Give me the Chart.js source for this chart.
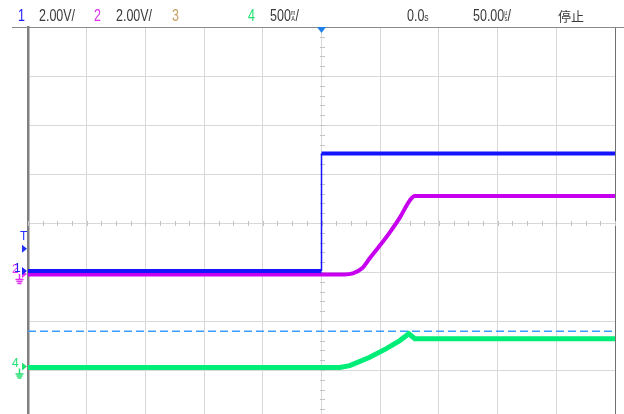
<!DOCTYPE html>
<html>
<head>
<meta charset="utf-8">
<script src="https://cdn.jsdelivr.net/npm/chart.js@4"></script>
<style>
  html, body { margin: 0; padding: 0; background: #fff; }
  #wrap { position: relative; width: 624px; height: 414px; overflow: hidden; }
  #wrap canvas { position: absolute; left: 0; top: 0; }
  .hd { position: absolute; top: 8px; font: 16px "Liberation Sans", Arial, sans-serif; line-height: 16px;
        color: #3a3a3a; white-space: nowrap; transform: scaleX(0.78); transform-origin: left top; }
  .stk { display: inline-block; font-size: 7px; line-height: 6px; vertical-align: top; text-align: center; margin-top: 2px; }
  .cjk { font-family: "Noto Sans CJK SC", sans-serif; font-size: 13px; transform: none; top: 8px; }
</style>
</head>
<body>
<div id="wrap">
  <canvas id="scope" width="624" height="420"></canvas>
  <div class="hd" style="left:18px;color:#2020ff">1</div>
  <div class="hd" style="left:39px">2.00V/</div>
  <div class="hd" style="left:94px;color:#e030f0">2</div>
  <div class="hd" style="left:116px">2.00V/</div>
  <div class="hd" style="left:172px;color:#c8a060">3</div>
  <div class="hd" style="left:248px;color:#20e070">4</div>
  <div class="hd" style="left:270px">500<span class="stk">m<br>A</span>/</div>
  <div class="hd" style="left:407px">0.0<span style="font-size:11px">s</span></div>
  <div class="hd" style="left:473px">50.00<span class="stk">µ<br>s</span>/</div>
  <div class="hd cjk" style="left:558px">停止</div>
</div>
<script>
// time axis in µs (50 µs/div), levels in screen divisions (8 div high)
const ch1Time = [-250, 0, 0, 250];
const ch1Level = [-0.98, -0.98, 1.42, 1.42];

const ch2Time = [-250, 19.8, 26.7, 34.3, 41.1, 49.7, 58.2, 66.7, 75.2, 79.5, 250];
const ch2Level = [-1.05, -1.05, -1.03, -0.93, -0.72, -0.46, -0.19, 0.11, 0.46, 0.55, 0.55];

const ch4Time = [-250, 15.6, 24.1, 41.1, 55.6, 66.7, 74.4, 79.5, 250];
const ch4Level = [-2.95, -2.95, -2.91, -2.74, -2.56, -2.40, -2.26, -2.36, -2.36];

const cursorTime = [-250, 250];
const cursorLevel = [-2.21, -2.21];

const toPoints = (xs, ys) => xs.map((t, i) => ({ x: t, y: ys[i] }));

// center-line minor ticks, trigger marker and channel markers
const scopeDecor = {
    id: 'scopeDecor',
    beforeDatasetsDraw(chart) {
        const { ctx, chartArea, scales: { x, y } } = chart;
        const cx = Math.round(x.getPixelForValue(0)) + 0.5;
        const cy = Math.round(y.getPixelForValue(0)) + 0.5;
        ctx.save();
        ctx.strokeStyle = '#c4c4c4';
        ctx.lineWidth = 1;
        ctx.beginPath();
        for (let v = -4; v <= 4.001; v += 0.2) {
            const py = Math.round(y.getPixelForValue(v)) + 0.5;
            ctx.moveTo(cx - 2.5, py);
            ctx.lineTo(cx + 2.5, py);
        }
        for (let t = -250; t <= 250.001; t += 12.5) {
            const px = Math.round(x.getPixelForValue(t)) + 0.5;
            ctx.moveTo(px, cy - 2.5);
            ctx.lineTo(px, cy + 2.5);
        }
        ctx.stroke();
        // header separator
        ctx.strokeStyle = '#8a8a8a';
        ctx.beginPath();
        ctx.moveTo(12, chartArea.top + 0.5);
        ctx.lineTo(624, chartArea.top + 0.5);
        ctx.stroke();
        ctx.restore();
    },
    afterDatasetsDraw(chart) {
        const { ctx, chartArea, scales: { x, y } } = chart;
        const left = chartArea.left;
        ctx.save();
        // trigger position
        const tx = x.getPixelForValue(0);
        ctx.fillStyle = '#1f7fe8';
        ctx.beginPath();
        ctx.moveTo(tx - 4.5, chartArea.top);
        ctx.lineTo(tx + 4.5, chartArea.top);
        ctx.lineTo(tx, chartArea.top + 6);
        ctx.closePath();
        ctx.fill();

        const arrow = (py, color) => {
            ctx.fillStyle = color;
            ctx.beginPath();
            ctx.moveTo(left - 6, py - 4);
            ctx.lineTo(left - 1, py);
            ctx.lineTo(left - 6, py + 4);
            ctx.closePath();
            ctx.fill();
        };
        const ground = (px, py, color) => {
            ctx.strokeStyle = color;
            ctx.lineWidth = 1.5;
            ctx.beginPath();
            ctx.moveTo(px + 0.5, py);
            ctx.lineTo(px + 0.5, py + 5);
            ctx.moveTo(px - 3.5, py + 5.5); ctx.lineTo(px + 4.5, py + 5.5);
            ctx.moveTo(px - 2.5, py + 7.5); ctx.lineTo(px + 3.5, py + 7.5);
            ctx.moveTo(px - 1.5, py + 9.5); ctx.lineTo(px + 2.5, py + 9.5);
            ctx.stroke();
        };

        ctx.font = '12px "Liberation Sans", Arial, sans-serif';
        ctx.textBaseline = 'middle';
        ctx.textAlign = 'left';

        // trigger level
        const tLevel = y.getPixelForValue(-0.2);
        ctx.fillStyle = '#2030ff';
        ctx.fillText('T', 20, tLevel + 4);
        arrow(tLevel + 16, '#2030ff');

        // channel 1 / 2
        const p1 = y.getPixelForValue(ch1Level[0]);
        ground(19, p1 + 3, '#e030f0');
        ctx.fillStyle = '#e030f0';
        ctx.fillText('2', 12, p1 - 1);
        ctx.fillStyle = '#2020ff';
        ctx.fillText('1', 14, p1 - 2);
        arrow(p1 + 3, '#e030f0');
        arrow(p1, '#2020ff');

        // channel 4
        const p4 = y.getPixelForValue(ch4Level[0]);
        ground(19, p4 + 1, '#20e070');
        ctx.fillStyle = '#20e070';
        ctx.fillText('4', 12, p4 - 4);
        arrow(p4 - 1, '#20e070');
        ctx.restore();
    }
};

new Chart(document.getElementById('scope'), {
    type: 'line',
    data: {
        datasets: [
            {
                label: 'CH1',
                data: toPoints(ch1Time, ch1Level),
                borderColor: '#1414ff',
                borderWidth: 4,
                segment: {
                    borderWidth: c => (c.p0.parsed.x === c.p1.parsed.x ? 1.5 : 4)
                },
                pointRadius: 0,
                order: 0
            },
            {
                label: 'CH2',
                data: toPoints(ch2Time, ch2Level),
                borderColor: '#c800f0',
                borderWidth: 4,
                cubicInterpolationMode: 'monotone',
                pointRadius: 0,
                order: 1
            },
            {
                label: 'CH4',
                data: toPoints(ch4Time, ch4Level),
                borderColor: '#00ee78',
                borderWidth: 5,
                pointRadius: 0,
                order: 2
            },
            {
                label: 'cursor',
                data: toPoints(cursorTime, cursorLevel),
                borderColor: '#3a9cff',
                borderWidth: 1.6,
                borderDash: [8, 4],
                pointRadius: 0,
                order: 3
            }
        ]
    },
    options: {
        responsive: false,
        animation: false,
        layout: { padding: { left: 28, right: 9, top: 27, bottom: 1 } },
        plugins: { legend: { display: false }, tooltip: { enabled: false } },
        scales: {
            x: {
                type: 'linear',
                min: -250,
                max: 250,
                ticks: { display: false, stepSize: 50 },
                grid: {
                    drawTicks: false,
                    color: c => (c.tick && c.tick.value === 250 ? '#707070' : '#d8d8d8'),
                    lineWidth: 1
                },
                border: { display: false },
                afterFit: scale => { scale.height = 0; }
            },
            y: {
                type: 'linear',
                min: -4,
                max: 4,
                ticks: { display: false, stepSize: 1 },
                grid: {
                    drawTicks: false,
                    color: c => (c.tick && c.tick.value === 4 ? '#8a8a8a' : '#d8d8d8'),
                    lineWidth: 1
                },
                border: { display: true, color: '#808080', width: 2.5 },
                afterFit: scale => { scale.width = 0; }
            }
        }
    },
    plugins: [scopeDecor]
});
</script>
</body>
</html>
